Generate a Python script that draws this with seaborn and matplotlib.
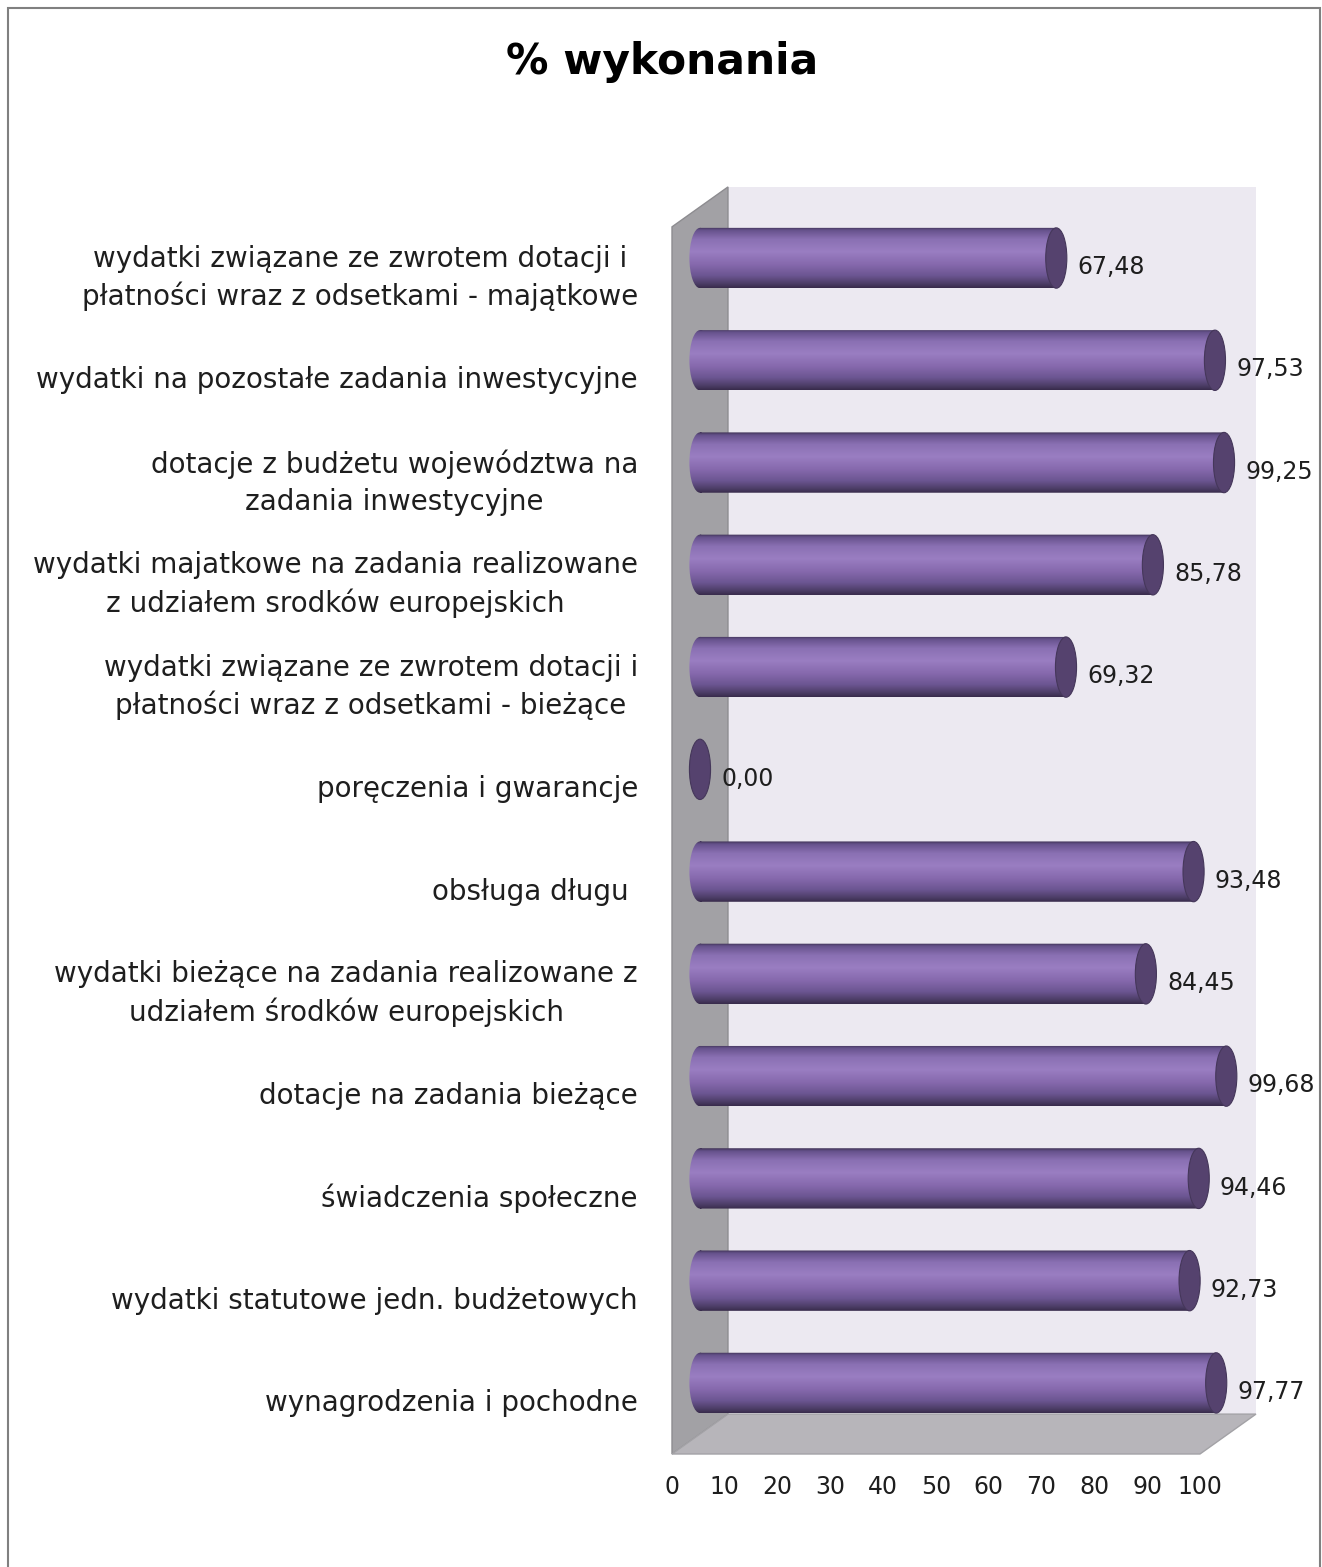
import numpy as np
import pandas as pd
import matplotlib
matplotlib.use("Agg")
from matplotlib import pyplot as plt
from matplotlib.transforms import Affine2D
from matplotlib.path import Path
from matplotlib.patches import Ellipse, Polygon, Rectangle
from matplotlib.colors import LinearSegmentedColormap
import seaborn as sns

# data, top to bottom as in the chart
categories = [
    "wydatki związane ze zwrotem dotacji i\npłatności wraz z odsetkami - majątkowe",
    "wydatki na pozostałe zadania inwestycyjne",
    "dotacje z budżetu województwa na\nzadania inwestycyjne",
    "wydatki majatkowe na zadania realizowane\nz udziałem srodków europejskich",
    "wydatki związane ze zwrotem dotacji i\npłatności wraz z odsetkami - bieżące",
    "poręczenia i gwarancje",
    "obsługa długu ",
    "wydatki bieżące na zadania realizowane z\nudziałem środków europejskich",
    "dotacje na zadania bieżące",
    "świadczenia społeczne",
    "wydatki statutowe jedn. budżetowych",
    "wynagrodzenia i pochodne",
]
values = [67.48, 97.53, 99.25, 85.78, 69.32, 0.00, 93.48, 84.45, 99.68, 94.46, 92.73, 97.77]
x_ticks = list(range(0, 101, 10))
title = "% wykonania"

# 3d look: depth of the box in data units, cylinder end radius
DX, DY = 10.6, 0.39
CAP_A = 2.0

BACK = "#ece9f1"
SIDE = "#a2a1a5"
FLOOR = "#b7b5ba"
CAP = "#55426e"
TXT = "#1e1e1e"
cyl = LinearSegmentedColormap.from_list("cyl", [
    (0.00, "#3f3255"), (0.05, "#66528c"), (0.20, "#8a70b3"),
    (0.40, "#9a7ec2"), (0.62, "#8568ac"), (0.80, "#6b5591"),
    (0.93, "#4c3d66"), (1.00, "#382b4b")])

sns.set_theme(style="white")
plt.rcParams['font.family'] = ['DejaVu Sans']

fig = plt.figure(figsize=(13.22, 15.67), dpi=100)
ax = fig.add_axes([672 / 1322, 1 - 1454 / 1567, 598 / 1322, (1454 - 180) / 1567])
ax.set_facecolor("none")

df = pd.DataFrame({"kategoria": categories, "wykonanie": values})
sns.barplot(data=df, x="wykonanie", y="kategoria", orient="h", color="#8a6fb0",
            width=0.59, ax=ax, zorder=2)

# bars sit half way into the box
mid = Affine2D().translate(DX / 2, -DY / 2) + ax.transData

# walls
ax.add_patch(Rectangle((DX, -0.5 - DY), 100, 12, fc=BACK, ec="none", zorder=0, clip_on=False))
ax.add_patch(Polygon([(0, -0.5), (DX, -0.5 - DY), (DX, 11.5 - DY), (0, 11.5)],
                     fc=SIDE, ec="#8d8c90", lw=1, zorder=1, clip_on=False))
ax.add_patch(Polygon([(0, 11.5), (DX, 11.5 - DY), (100 + DX, 11.5 - DY), (100, 11.5)],
                     fc=FLOOR, ec="#a3a2a6", lw=1, zorder=1, clip_on=False))

grad = np.linspace(0, 1, 256).reshape(-1, 1)
for p, v in zip(ax.patches[:len(values)], values):
    y0 = p.get_y()
    h = p.get_height()
    yc = y0 + h / 2
    p.set_visible(False)
    if v > 0:
        rect = Path.unit_rectangle().transformed(Affine2D().scale(v, h).translate(0, y0))
        end = Path.unit_circle().transformed(Affine2D().scale(CAP_A, h / 2).translate(0, yc))
        body = Path.make_compound_path(rect, end)
        im = ax.imshow(grad, cmap=cyl, extent=(-CAP_A, v, y0 + h, y0), origin="upper",
                       aspect="auto", transform=mid, zorder=2, interpolation="bilinear")
        im.set_clip_path(body, mid)
    ax.add_patch(Ellipse((v, yc), 2 * CAP_A, h, transform=mid, fc=CAP, ec="#45375a",
                         lw=0.8, zorder=3))

for i, v in enumerate(values):
    ax.text(v + CAP_A + 2.0, i + 0.09, f"{v:.2f}".replace(".", ","), transform=mid,
            ha="left", va="center", fontsize=17, color=TXT, zorder=4)

ax.set_yticks(range(len(categories)))
ax.set_yticklabels(categories, fontsize=20, color=TXT)
for t in ax.get_yticklabels():
    t.set_multialignment("center")
    t.set_linespacing(1.39)
    t.set_verticalalignment("center")
ax.tick_params(axis="y", length=0, pad=24.5)

ax.set_xticks(x_ticks)
ax.set_xticklabels([str(t) for t in x_ticks])
ax.tick_params(axis="x", length=0, pad=15, labelsize=17, labelcolor=TXT)
ax.set_xlabel("")
ax.set_ylabel("")
for s in ax.spines.values():
    s.set_visible(False)
ax.grid(False)

ax.set_xlim(0, 598 / 5.28)
ax.set_ylim(11.5, -0.958)

fig.text(0.501, 1 - 62 / 1567, title, ha="center", va="center", fontsize=30.5,
         fontweight="bold", color="black")
fig.add_artist(Rectangle((8 / 1322, -0.01), 1312 / 1322, 1.01 - 8 / 1567,
                         transform=fig.transFigure, fill=False, ec="#808080", lw=1.5))

fig.savefig("out.png", dpi=100)
